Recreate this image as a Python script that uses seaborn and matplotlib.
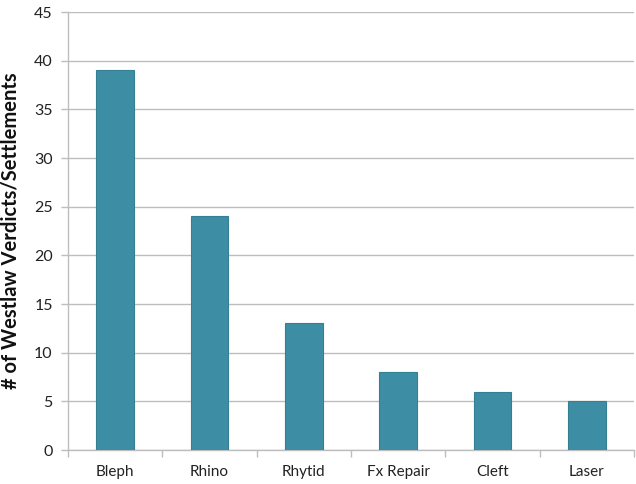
import matplotlib
matplotlib.use("Agg")
import matplotlib.pyplot as plt
import seaborn as sns
import pandas as pd
import numpy as np

categories = ["Bleph", "Rhino", "Rhytid", "Fx Repair", "Cleft", "Laser"]
values = [39, 24, 13, 8, 6, 5]
yticks = [0, 5, 10, 15, 20, 25, 30, 35, 40, 45]

sns.set_theme(style="white")
plt.rcParams['font.family'] = ['Lato', 'DejaVu Sans']

df = pd.DataFrame({"cat": categories, "val": values})

fig = plt.figure(figsize=(6.36, 4.84), dpi=100)
ax = fig.add_axes([0.107, 0.0702, 0.890, 0.905])
sns.barplot(data=df, x="cat", y="val", ax=ax, color="#3d8ea4", saturation=1,
            width=0.4, edgecolor="#357f93", linewidth=0.8, zorder=3)

ax.set_ylim(0, 45)
ax.set_xlim(-0.5, len(categories) - 0.5)
ax.set_yticks(yticks)
ax.set_yticklabels([str(t) for t in yticks], fontsize=11.5, color="#222222")
ax.yaxis.grid(True, color="#bdbdbd", linewidth=1.0, zorder=0)
ax.set_axisbelow(True)

ax.set_xticks(range(len(categories)))
ax.set_xticklabels(categories, fontsize=11, color="#222222")
ax.tick_params(axis="x", length=0, pad=11)
ax.set_xticks(np.arange(-0.5, len(categories) + 0.5, 1), minor=True)
ax.tick_params(axis="x", which="minor", length=5, color="#bdbdbd", width=1, direction="out", bottom=True)
ax.tick_params(axis="y", length=5, color="#bdbdbd", width=1, direction="out", left=True, pad=6)

for s in ["top", "right"]:
    ax.spines[s].set_visible(False)
for s in ["left", "bottom"]:
    ax.spines[s].set_color("#bdbdbd")
    ax.spines[s].set_linewidth(1.0)

ax.set_xlabel("")
ax.set_ylabel("# of Westlaw Verdicts/Settlements", fontsize=14.5, fontweight="bold", color="#111111", labelpad=10)

fig.savefig("out.png", dpi=100)
